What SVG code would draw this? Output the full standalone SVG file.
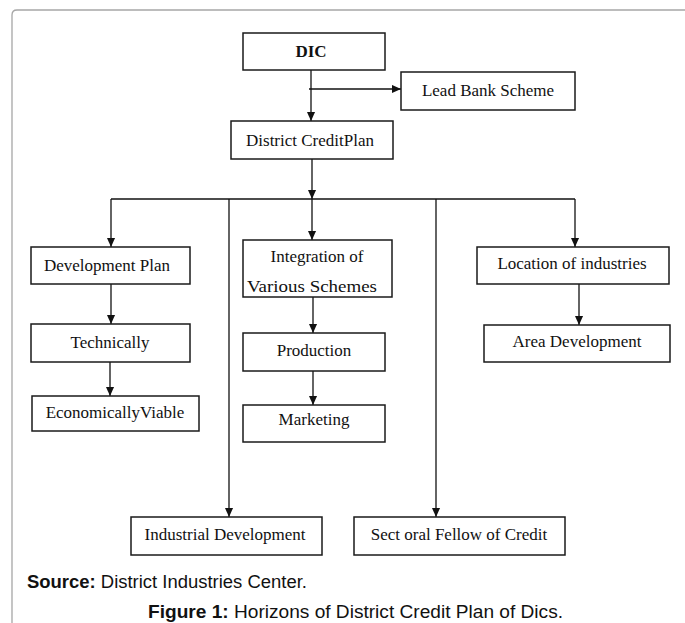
<svg xmlns="http://www.w3.org/2000/svg" width="685" height="623" viewBox="0 0 685 623">
  <style>
    .box { fill: #ffffff; stroke: #1a1a1a; stroke-width: 1.5; }
    .lbl { font-family: "Liberation Serif", "Times New Roman", serif; font-size: 17px; fill: #111; text-anchor: middle; }
    .bold { font-weight: bold; }
    .wire { fill: none; stroke: #111; stroke-width: 1.3; }
    .cap { font-family: "Liberation Sans", Arial, sans-serif; font-size: 17.5px; fill: #111; }
    .frame { fill: none; stroke: #a6a6a6; stroke-width: 1.3; }
  </style>
  <defs>
    <marker id="arrow" viewBox="0 0 10 10" refX="10" refY="5" markerWidth="9" markerHeight="9" markerUnits="userSpaceOnUse" orient="auto">
      <path d="M0,0.5 L10,5 L0,9.5 z" fill="#111"/>
    </marker>
  </defs>

  <rect width="685" height="623" fill="#ffffff"/>
  <!-- page frame, open at right and bottom -->
  <path class="frame" d="M12,623 V15 Q12,10 17,10 H685"/>

  <!-- connectors -->
  <g id="connectors">
    <path class="wire" d="M311,70 V121" marker-end="url(#arrow)"/>
    <path class="wire" d="M309,89 H401" marker-end="url(#arrow)"/>
    <path class="wire" d="M312,159 V199" marker-end="url(#arrow)"/>
    <path class="wire" d="M111,199 H575"/>
    <path class="wire" d="M111,199 V247" marker-end="url(#arrow)"/>
    <path class="wire" d="M229,199 V517" marker-end="url(#arrow)"/>
    <path class="wire" d="M312,199 V240" marker-end="url(#arrow)"/>
    <path class="wire" d="M436,199 V517" marker-end="url(#arrow)"/>
    <path class="wire" d="M575,199 V247" marker-end="url(#arrow)"/>
    <path class="wire" d="M111,284 V324" marker-end="url(#arrow)"/>
    <path class="wire" d="M110,362 V396" marker-end="url(#arrow)"/>
    <path class="wire" d="M313,297 V333" marker-end="url(#arrow)"/>
    <path class="wire" d="M313,371 V405" marker-end="url(#arrow)"/>
    <path class="wire" d="M579,284 V325" marker-end="url(#arrow)"/>
  </g>

  <!-- nodes -->
  <g id="dic">
    <rect class="box" x="243" y="33" width="142" height="37"/>
    <text class="lbl bold" x="311" y="57" font-size="19">DIC</text>
  </g>
  <g id="lead-bank-scheme">
    <rect class="box" x="401" y="72" width="174" height="38"/>
    <text class="lbl" x="488" y="96">Lead Bank Scheme</text>
  </g>
  <g id="district-credit-plan">
    <rect class="box" x="231" y="121" width="162" height="38"/>
    <text class="lbl" x="310" y="146">District CreditPlan</text>
  </g>
  <g id="development-plan">
    <rect class="box" x="31" y="247" width="159" height="37"/>
    <text class="lbl" x="107" y="271">Development Plan</text>
  </g>
  <g id="technically">
    <rect class="box" x="31" y="324" width="159" height="38"/>
    <text class="lbl" x="110" y="348">Technically</text>
  </g>
  <g id="economically-viable">
    <rect class="box" x="32" y="396" width="167" height="35"/>
    <text class="lbl" x="115" y="418">EconomicallyViable</text>
  </g>
  <g id="integration">
    <rect class="box" x="243" y="240" width="149" height="57"/>
    <text class="lbl" x="317" y="262">Integration of</text>
    <text class="lbl" x="312" y="292" textLength="130" lengthAdjust="spacingAndGlyphs">Various Schemes</text>
  </g>
  <g id="production">
    <rect class="box" x="243" y="333" width="142" height="38"/>
    <text class="lbl" x="314" y="356">Production</text>
  </g>
  <g id="marketing">
    <rect class="box" x="243" y="405" width="142" height="37"/>
    <text class="lbl" x="314" y="425">Marketing</text>
  </g>
  <g id="location-of-industries">
    <rect class="box" x="477" y="247" width="192" height="37"/>
    <text class="lbl" x="572" y="269">Location of industries</text>
  </g>
  <g id="area-development">
    <rect class="box" x="484" y="325" width="186" height="37"/>
    <text class="lbl" x="577" y="347">Area Development</text>
  </g>
  <g id="industrial-development">
    <rect class="box" x="131" y="517" width="191" height="38"/>
    <text class="lbl" x="225" y="540">Industrial Development</text>
  </g>
  <g id="sectoral-fellow-of-credit">
    <rect class="box" x="354" y="517" width="211" height="38"/>
    <text class="lbl" x="459" y="540">Sect oral Fellow of Credit</text>
  </g>

  <!-- source and caption -->
  <text class="cap" x="27" y="588" textLength="280" lengthAdjust="spacingAndGlyphs"><tspan font-weight="bold">Source:</tspan> District Industries Center.</text>
  <text class="cap" x="148" y="618" textLength="415" lengthAdjust="spacingAndGlyphs"><tspan font-weight="bold">Figure 1:</tspan> Horizons of District Credit Plan of Dics.</text>
</svg>
